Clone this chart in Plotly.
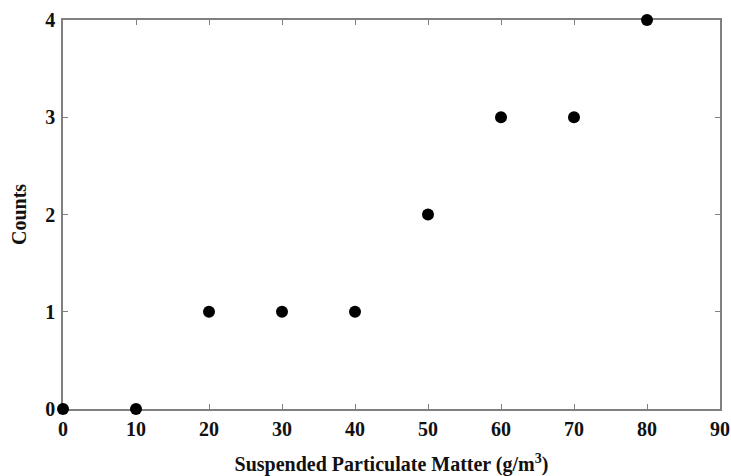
import plotly.graph_objects as go

spm = [0, 10, 20, 30, 40, 50, 60, 70, 80]
counts = [0, 0, 1, 1, 1, 2, 3, 3, 4]
x_ticks = [0, 10, 20, 30, 40, 50, 60, 70, 80, 90]
y_ticks = [0, 1, 2, 3, 4]

font = dict(family="Liberation Serif", size=20, color="#111")

fig = go.Figure(go.Scatter(
    x=spm, y=counts, mode="markers",
    marker=dict(color="black", size=12),
    cliponaxis=False,
))

axis_common = dict(
    showgrid=False, zeroline=False, showline=True, linecolor="#808080", linewidth=1.5,
    mirror="ticks", ticks="inside", ticklen=5, tickcolor="#808080", tickwidth=1,
    tickfont=dict(family="Liberation Serif", size=20, color="#111", weight="bold"),
    automargin=False, layer="below traces",
)

fig.update_layout(
    width=731, height=476,
    margin=dict(l=63, r=11, t=20, b=67),
    paper_bgcolor="white", plot_bgcolor="white",
    showlegend=False,
    font=font,
    xaxis=dict(range=[0, 90], tickvals=x_ticks, ticklabelstandoff=1,
               title=dict(text="<b>Suspended Particulate Matter (g/m<sup>3</sup>)</b>",
                          font=dict(family="Liberation Serif", size=20, color="#111"), standoff=19),
               **axis_common),
    yaxis=dict(range=[0, 4], tickvals=y_ticks, ticklabelstandoff=2,
               title=dict(text="<b>Counts</b>",
                          font=dict(family="Liberation Serif", size=20, color="#111"), standoff=13),
               **axis_common),
)

fig.write_html("out.html")
